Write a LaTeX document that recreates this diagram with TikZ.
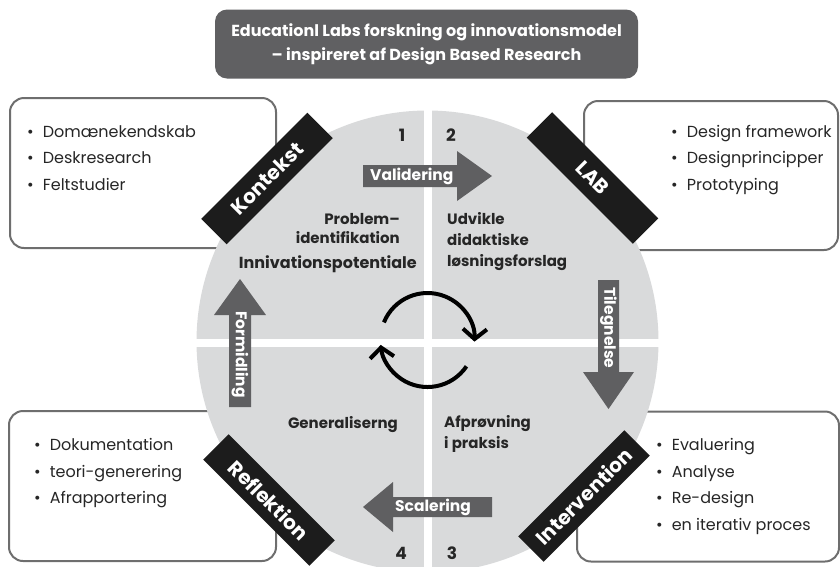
\documentclass[tikz,border=0pt]{standalone}
\usepackage{fontspec}
\setmainfont{Poppins}
\usetikzlibrary{arrows.meta}
\definecolor{circgray}{HTML}{D9DADB}
\definecolor{arrgray}{HTML}{5F5F61}
\definecolor{titlegray}{HTML}{606062}
\definecolor{boxline}{HTML}{6E6E6E}
\definecolor{bandblack}{HTML}{1C1C1C}
\definecolor{txtdark}{HTML}{262626}
\begin{document}
\begin{tikzpicture}[x=1pt,y=-1pt,
  infobox/.style={draw=boxline, line width=2pt, rounded corners=14pt, fill=white, inner sep=0pt},
  titlebox/.style={fill=titlegray, rounded corners=12pt, text=white, align=center, inner sep=0pt,
    minimum width=423pt, minimum height=69pt, font=\bfseries\fontsize{16}{24}\selectfont},
  band/.style={fill=bandblack, text=white, minimum width=150pt, minimum height=36pt, inner sep=0pt,
    font=\bfseries\fontsize{20}{22}\selectfont},
  arrowshape/.style={fill=arrgray},
  arrowlabel/.style={text=white, inner sep=0pt, font=\bfseries\fontsize{15.5}{17}\selectfont},
  itemtext/.style={anchor=base west, inner sep=0pt, text=txtdark, font=\fontsize{16}{18}\selectfont},
  qtext/.style={inner sep=0pt, text=txtdark, font=\bfseries\fontsize{15}{21}\selectfont},
  numlabel/.style={inner sep=0pt, text=txtdark, font=\bfseries\fontsize{17}{20}\selectfont},
  cyc/.style={line width=4pt, black, -{Straight Barb[length=10pt,width=24pt]}}
]
\useasboundingbox (0,0) rectangle (840,566);

% title
\node[titlebox] (title) at (426.5,44) {Educationl Labs forskning og innovationsmodel\\– inspireret af Design Based Research};

% info boxes
\node[infobox, minimum width=266pt, minimum height=150pt] (boxtl) at (143,173) {};
\node[infobox, minimum width=254pt, minimum height=149pt] (boxtr) at (711,175.5) {};
\node[infobox, minimum width=267pt, minimum height=150pt] (boxbl) at (142.5,486) {};
\node[infobox, minimum width=262pt, minimum height=150pt] (boxbr) at (708,486.5) {};

% circle with white cross
\fill[circgray] (427.5,341.5) circle[radius=231];
\draw[white, line width=8pt] (427.5,105) -- (427.5,570);
\draw[white, line width=8pt] (190,343) -- (666,343);

% bands
\node[band, rotate=45] (kontekst) at (267,178.5) {Kontekst};
\node[band, rotate=-45] (lab) at (592.5,178) {LAB};
\node[band, rotate=-45] (reflektion) at (269,500) {Reflektion};
\node[band, rotate=45] (intervention) at (584,496) {Intervention};

% gray arrows
\fill[arrowshape] (363,165) -- (457,165) -- (457,151) -- (492,176) -- (457,201) -- (457,187) -- (363,187) -- cycle;
\node[arrowlabel, anchor=west] (validering) at (370,176) {Validering};

\fill[arrowshape] (598,280) -- (619,280) -- (619,372) -- (634,372) -- (608.5,409) -- (583,372) -- (598,372) -- cycle;
\node[arrowlabel, anchor=west, rotate=-90] (tilegnelse) at (608.5,287) {Tilegnelse};

\fill[arrowshape] (229,407) -- (251,407) -- (251,315) -- (266,315) -- (240,279) -- (214,315) -- (229,315) -- cycle;
\node[arrowlabel, anchor=west, rotate=-90] (formidling) at (240,311) {Formidling};

\fill[arrowshape] (492,497) -- (393,497) -- (393,482) -- (363,507) -- (393,532) -- (393,517) -- (492,517) -- cycle;
\node[arrowlabel, anchor=west] (scalering) at (395,507) {Scalering};

% numbers
\node[numlabel] (n1) at (402,135) {1};
\node[numlabel] (n2) at (451,135) {2};
\node[numlabel] (n4) at (401,553) {4};
\node[numlabel] (n3) at (452,553) {3};

% quadrant texts (base anchor = last line)
\node[qtext, align=right, anchor=base east] (q1) at (400,243.5) {Problem–\\[-2pt]identifikation};
\node[qtext, anchor=base east, font=\bfseries\fontsize{16}{21}\selectfont] (q1b) at (417,268.5) {Innivationspotentiale};
\node[qtext, align=left, anchor=base west] (q2) at (447,266) {Udvikle\\didaktiske\\løsningsforslag};
\node[qtext, align=left, anchor=base west] (q3) at (444,448.5) {Afprøvning\\i praksis};
\node[qtext, anchor=base east] (q4) at (398,428.5) {Generaliserng};

% cycle arrows
\coordinate (cc) at (427.5,340);
\draw[cyc] (cc) ++(-158:47) arc[start angle=-158, end angle=2, radius=47];
\draw[cyc] (cc) ++(34:47) arc[start angle=34, end angle=174, radius=47];

% bullet lists
\node[itemtext] (tl1) at (27,137) {\textbullet\hspace{9pt}Domænekendskab};
\node[itemtext] (tl2) at (27,163.5) {\textbullet\hspace{9pt}Deskresearch};
\node[itemtext] (tl3) at (27,190) {\textbullet\hspace{9pt}Feltstudier};

\node[itemtext] (tr1) at (671,137) {\textbullet\hspace{9pt}Design framework};
\node[itemtext] (tr2) at (671,163.5) {\textbullet\hspace{9pt}Designprincipper};
\node[itemtext] (tr3) at (671,190) {\textbullet\hspace{9pt}Prototyping};

\node[itemtext] (bl1) at (34,450.5) {\textbullet\hspace{9pt}Dokumentation};
\node[itemtext] (bl2) at (34,477) {\textbullet\hspace{9pt}teori-generering};
\node[itemtext] (bl3) at (34,503.5) {\textbullet\hspace{9pt}Afrapportering};

\node[itemtext] (br1) at (656,450.5) {\textbullet\hspace{9pt}Evaluering};
\node[itemtext] (br2) at (656,477) {\textbullet\hspace{9pt}Analyse};
\node[itemtext] (br3) at (656,503.5) {\textbullet\hspace{9pt}Re-design};
\node[itemtext] (br4) at (656,530) {\textbullet\hspace{9pt}en iterativ proces};
\end{tikzpicture}
\end{document}
